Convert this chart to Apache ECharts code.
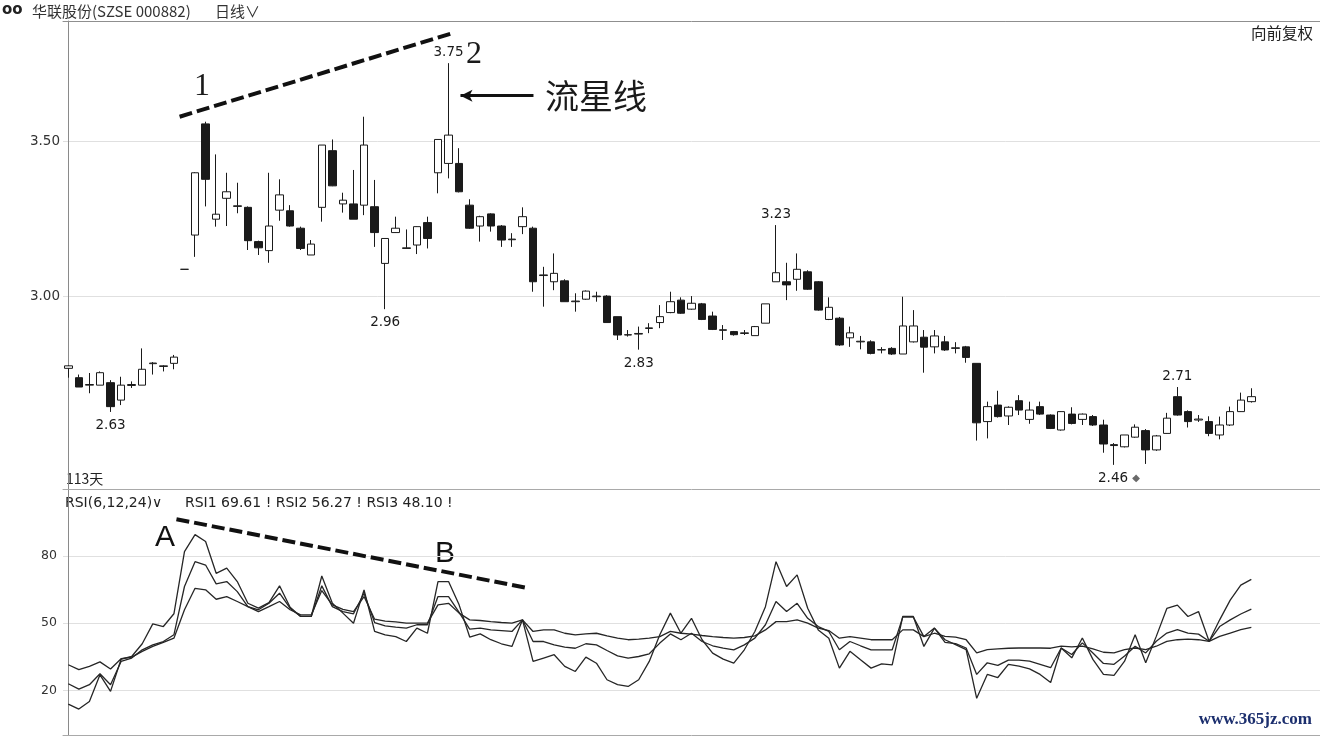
<!DOCTYPE html>
<html>
<head>
<meta charset="utf-8">
<script src="https://cdn.jsdelivr.net/npm/echarts/dist/echarts.min.js"></script>
<style>
html,body{margin:0;padding:0;background:#ffffff;}
#main{width:1320px;height:736px;}
</style>
</head>
<body>
<div id="main"></div>
<script>
// ---------------- DATA ----------------
const SLOT_COUNT = 119; // 113 trading days + empty room on the right
const dayLabels = Array.from({length: SLOT_COUNT}, (_, i) => 'D' + (i + 1));

const opens = [2.770,2.740,2.716,2.716,2.724,2.668,2.715,2.716,2.785,2.776,2.786,3.088,3.198,3.555,3.249,3.316,3.290,3.287,3.177,3.148,
3.278,3.276,3.220,3.134,3.287,3.469,3.298,3.298,3.294,3.289,3.107,3.206,3.155,3.166,3.238,3.398,3.428,3.428,3.294,3.227,
3.266,3.227,3.183,3.225,3.220,3.068,3.048,3.051,2.984,2.992,3.000,3.002,2.936,2.877,2.880,2.898,2.917,2.949,2.989,2.960,
2.977,2.938,2.892,2.888,2.882,2.875,2.915,3.048,3.048,3.056,3.080,3.048,2.927,2.931,2.868,2.855,2.855,2.829,2.834,2.816,
2.855,2.870,2.839,2.855,2.834,2.839,2.786,2.599,2.652,2.617,2.666,2.606,2.647,2.620,2.572,2.623,2.606,2.615,2.588,2.525,
2.518,2.549,2.570,2.508,2.561,2.679,2.631,2.604,2.599,2.556,2.588,2.631,2.663];
const closes = [2.778,2.710,2.718,2.756,2.647,2.716,2.718,2.767,2.787,2.778,2.806,3.088,3.398,3.377,3.265,3.337,3.292,3.180,3.157,3.227,
3.327,3.227,3.155,3.169,3.487,3.356,3.310,3.249,3.487,3.206,3.187,3.220,3.157,3.225,3.187,3.505,3.519,3.337,3.220,3.257,
3.227,3.182,3.185,3.257,3.048,3.070,3.075,2.984,2.986,3.018,3.002,2.917,2.877,2.878,2.882,2.900,2.936,2.984,2.947,2.979,
2.927,2.895,2.894,2.878,2.884,2.904,2.977,3.077,3.038,3.088,3.024,2.957,2.966,2.845,2.884,2.857,2.818,2.830,2.816,2.906,
2.906,2.838,2.874,2.829,2.836,2.805,2.595,2.647,2.615,2.645,2.636,2.636,2.623,2.577,2.631,2.593,2.623,2.588,2.527,2.522,
2.556,2.581,2.508,2.553,2.610,2.620,2.599,2.607,2.561,2.588,2.631,2.668,2.679];
const lows = [2.740,2.710,2.690,2.716,2.630,2.652,2.707,2.716,2.750,2.760,2.767,3.088,3.128,3.290,3.225,3.227,3.268,3.150,3.134,3.109,
3.244,3.225,3.150,3.134,3.241,3.355,3.270,3.249,3.262,3.160,2.960,3.205,3.155,3.137,3.155,3.332,3.380,3.335,3.218,3.177,
3.209,3.160,3.160,3.201,3.016,2.968,3.021,2.984,2.952,2.990,2.984,2.917,2.861,2.872,2.830,2.883,2.899,2.947,2.945,2.958,
2.925,2.893,2.861,2.875,2.877,2.875,2.915,3.048,2.989,3.019,3.022,2.955,2.925,2.842,2.839,2.831,2.815,2.818,2.813,2.816,
2.853,2.756,2.818,2.826,2.818,2.788,2.538,2.545,2.612,2.588,2.620,2.592,2.620,2.575,2.570,2.590,2.588,2.585,2.499,2.460,
2.516,2.547,2.463,2.505,2.560,2.618,2.580,2.598,2.552,2.542,2.585,2.630,2.660];
const highs = [2.780,2.750,2.755,2.760,2.732,2.743,2.728,2.834,2.790,2.780,2.813,3.088,3.400,3.562,3.457,3.398,3.366,3.290,3.180,3.398,
3.377,3.294,3.225,3.182,3.487,3.505,3.334,3.407,3.578,3.375,3.187,3.257,3.216,3.226,3.257,3.505,3.750,3.477,3.313,3.260,
3.268,3.230,3.204,3.287,3.225,3.096,3.139,3.056,3.011,3.020,3.016,3.005,2.936,2.893,2.904,2.915,2.973,3.016,2.998,3.002,
2.980,2.952,2.909,2.890,2.893,2.906,2.977,3.230,3.109,3.139,3.085,3.050,2.998,2.935,2.904,2.874,2.860,2.838,2.838,3.000,
2.957,2.893,2.893,2.874,2.854,2.842,2.786,2.663,2.698,2.648,2.684,2.663,2.663,2.622,2.632,2.645,2.625,2.620,2.605,2.530,
2.556,2.590,2.575,2.556,2.627,2.710,2.635,2.620,2.616,2.615,2.647,2.692,2.706];

const rsi6 = [13.8,11.6,15.0,26.9,19.5,33.9,35.1,40.8,49.7,48.5,54.2,82.0,89.6,86.5,72.3,74.6,68.6,58.9,56.7,59.2,
66.7,57.1,53.0,53.0,71.1,58.9,54.5,50.0,64.9,46.3,44.8,44.0,41.8,47.8,45.5,68.6,68.6,58.2,43.8,45.2,
42.6,40.8,39.6,51.5,32.9,34.4,35.9,30.7,28.4,34.8,32.1,24.7,22.5,21.7,24.7,32.9,44.8,54.5,45.5,52.2,
42.6,36.6,33.9,32.1,38.1,46.3,57.4,77.5,66.4,71.6,56.7,47.0,43.3,29.9,37.4,33.6,29.9,31.8,31.4,53.0,
53.0,39.6,47.8,42.6,40.4,38.2,16.4,27.1,25.7,31.6,30.8,29.6,27.1,23.5,38.9,34.5,43.4,33.8,27.1,26.7,
33.0,44.8,32.3,44.1,56.6,58.1,53.0,55.2,41.9,51.5,60.3,67.0,69.61];
const rsi12 = [22.9,20.5,22.5,27.4,22.5,32.9,34.4,38.1,40.3,41.8,44.8,66.4,77.5,76.0,67.6,68.6,64.1,57.4,56.0,58.9,
63.4,56.7,53.0,53.0,66.7,57.4,55.2,54.2,63.4,50.3,48.8,48.2,47.8,49.3,49.3,61.9,61.9,54.8,47.3,47.8,
47.0,46.7,46.3,51.5,41.8,41.8,40.3,39.3,38.8,40.8,40.3,37.8,35.4,34.4,35.1,36.3,41.1,45.2,42.6,45.5,
41.8,39.9,38.8,38.1,40.3,43.3,49.3,59.7,55.2,58.9,52.2,48.5,46.3,38.1,41.8,39.9,38.1,38.1,38.1,52.7,
52.7,44.0,47.8,41.4,40.9,38.9,27.1,32.3,31.1,33.5,33.5,33.0,31.6,30.1,38.9,36.0,41.2,36.7,32.0,31.6,
35.3,39.7,36.7,41.9,45.6,47.1,45.6,45.1,41.9,48.5,51.5,54.1,56.27];
const rsi24 = [31.4,29.2,30.7,32.7,29.5,34.1,34.8,37.4,39.6,41.4,43.3,56.0,65.6,64.9,60.7,61.9,59.7,57.4,55.2,57.4,
59.7,56.0,53.7,53.7,64.6,58.2,56.2,55.2,61.9,51.8,50.9,50.6,50.0,50.0,50.0,58.2,58.9,54.5,51.5,51.2,
50.7,50.3,50.0,51.5,46.3,47.0,47.0,45.5,44.8,45.2,45.5,44.3,43.3,42.6,42.9,43.3,44.0,46.3,45.5,45.1,
44.5,44.0,43.6,43.3,43.6,44.3,47.0,50.7,50.7,51.5,50.0,47.8,46.7,43.3,44.0,43.3,42.6,42.6,42.6,47.0,
47.0,44.0,45.5,44.1,43.8,42.6,36.7,38.2,38.5,38.8,38.9,38.9,38.9,38.8,39.7,39.4,39.7,38.5,37.0,36.7,
38.2,38.9,38.2,39.7,41.9,42.6,42.9,42.6,41.9,44.1,45.6,47.1,48.10];

const priceTicks = [3.00, 3.50];
const rsiTicks = [20, 50, 80];
const PRICE_MIN = 2.3825, PRICE_MAX = 3.8854;
const RSI_MIN = 0, RSI_MAX = 110;

// annotated extremes (day indices)
const highMarkDays = [36, 67, 105];
const lowMarkDays = [4, 30, 54, 99];
const diamondDay = 99;

// hand-drawn annotations in data units [dayIndex, value]
const priceTrendLine = [[10.54, 3.578], [36.34, 3.846]];
const rsiTrendLine = [[10.24, 96.5], [43.27, 65.9]];
const arrowLine = [[37.13, 3.6455], [44.04, 3.6455]];

// ---------------- CHART ----------------
const chart = echarts.init(document.getElementById('main'), null, {renderer: 'canvas'});
const candleData = opens.map((o, i) => [o, closes[i], lows[i], highs[i]]);
const SANS = '"DejaVu Sans", Verdana, sans-serif';
const CJK = '"Noto Sans CJK SC", sans-serif';
const INK = '#1a1a1a';

const hiddenCat = (grid, pos, lineColor) => ({
  type: 'category', gridIndex: grid, data: dayLabels, boundaryGap: true, position: pos,
  axisLine: {show: true, onZero: false, lineStyle: {color: lineColor, width: 1}},
  axisTick: {show: false}, axisLabel: {show: false}, splitLine: {show: false}
});

const markPts = [
  ...highMarkDays.map(i => ({coord: [i, highs[i]], value: highs[i], label: {position: 'top', distance: 3}})),
  ...lowMarkDays.map(i => ({coord: [i, lows[i]], value: lows[i], diamond: i === diamondDay,
     label: {position: 'bottom', distance: 6, offset: i === diamondDay ? [5, 0] : [0, 0]}}))
];

const gridMark = (ticks) => ticks.map(v => ({yAxis: v, symbol: 'none',
  lineStyle: {color: '#e0e0e0', width: 1, type: 'solid'}}));

const text = (t, x, y, font, align, color) => ({
  type: 'text', x: x, y: y, silent: true,
  style: {text: t, font: font, fill: color || '#222', align: align || 'left', verticalAlign: 'middle',
          textAlign: align || 'left', textVerticalAlign: 'middle'}
});

const option = {
  animation: false,
  backgroundColor: '#ffffff',
  grid: [
    {left: 63, top: 21, right: -4, height: 468},
    {left: 63, top: 489, right: -4, height: 246}
  ],
  xAxis: [
    hiddenCat(0, 'bottom', '#a9a9a9'),
    hiddenCat(1, 'bottom', '#a9a9a9'),
    hiddenCat(0, 'top', '#8f8f8f'),
    {type: 'value', gridIndex: 0, min: -0.5, max: SLOT_COUNT - 0.5, show: false},
    {type: 'value', gridIndex: 1, min: -0.5, max: SLOT_COUNT - 0.5, show: false}
  ],
  yAxis: [
    {type: 'value', gridIndex: 0, min: PRICE_MIN, max: PRICE_MAX, scale: true,
     axisLine: {show: true, lineStyle: {color: '#8a8a8a'}},
     axisTick: {show: false, customValues: priceTicks},
     splitLine: {show: false},
     axisLabel: {customValues: priceTicks, formatter: v => v.toFixed(2), color: '#333',
                 fontSize: 13.5, fontFamily: SANS, margin: 3}},
    {type: 'value', gridIndex: 1, min: RSI_MIN, max: RSI_MAX,
     axisLine: {show: true, lineStyle: {color: '#8a8a8a'}},
     axisTick: {show: false, customValues: rsiTicks},
     splitLine: {show: false},
     axisLabel: {customValues: rsiTicks, formatter: v => String(v), color: '#333',
                 fontSize: 12.5, fontFamily: SANS, margin: 6}}
  ],
  series: [
    {
      name: 'price-annot', type: 'line', xAxisIndex: 3, yAxisIndex: 0, z: 1,
      data: priceTrendLine, symbol: 'none', silent: true,
      lineStyle: {color: '#111', width: 4, type: [13, 5], cap: 'butt'},
      markLine: {
        silent: true, z: 0, symbol: ['none', 'none'], label: {show: false}, animation: false,
        data: [
          ...gridMark(priceTicks),
          [
            {coord: arrowLine[0], symbol: 'arrow', symbolSize: [9, 12],
             lineStyle: {color: '#111', width: 3, type: 'solid'}},
            {coord: arrowLine[1], symbol: 'none'}
          ]
        ]
      }
    },
    {
      name: 'K', type: 'candlestick', xAxisIndex: 0, yAxisIndex: 0, z: 3,
      data: candleData, barWidth: 8,
      itemStyle: {color: '#ffffff', color0: INK, borderColor: INK, borderColor0: INK, borderWidth: 1},
      markPoint: {
        symbol: 'circle', symbolSize: 1, silent: true, animation: false,
        itemStyle: {color: 'rgba(0,0,0,0)'},
        label: {
          show: true, color: '#1e1e1e', fontSize: 13.5, fontFamily: SANS,
          formatter: p => p.data.diamond ? '{v|' + p.value.toFixed(2) + '} {d|◆}' : '{v|' + p.value.toFixed(2) + '}',
          rich: {
            v: {fontSize: 13.5, fontFamily: SANS, color: '#1a1a1a'},
            d: {fontSize: 10, color: '#6a6a6a'}
          }
        },
        data: markPts
      }
    },
    {
      name: 'rsi-annot', type: 'line', xAxisIndex: 4, yAxisIndex: 1, z: 3,
      data: rsiTrendLine, symbol: 'none', silent: true,
      lineStyle: {color: '#111', width: 4, type: [13, 5], cap: 'butt'},
      markLine: {silent: true, z: 0, symbol: ['none', 'none'], label: {show: false}, animation: false,
                 data: gridMark(rsiTicks)}
    },
    {name: 'RSI1', type: 'line', xAxisIndex: 1, yAxisIndex: 1, data: rsi6, symbol: 'none', z: 2,
     lineStyle: {color: '#262626', width: 1.3}},
    {name: 'RSI2', type: 'line', xAxisIndex: 1, yAxisIndex: 1, data: rsi12, symbol: 'none', z: 2,
     lineStyle: {color: '#262626', width: 1.3}},
    {name: 'RSI3', type: 'line', xAxisIndex: 1, yAxisIndex: 1, data: rsi24, symbol: 'none', z: 2,
     lineStyle: {color: '#262626', width: 1.3}}
  ],
  graphic: [
    text('oo', 2, 10, 'bold 15px ' + SANS, 'left', '#222'),
    text('华联股份(SZSE 000882)', 32, 11, '15px ' + CJK, 'left', '#333'),
    text('日线∨', 215, 11, '15px ' + CJK, 'left', '#333'),
    text('向前复权', 1313, 33, '15.5px ' + CJK, 'right', '#222'),
    text('113天', 66, 479, '14px ' + CJK, 'left', '#222'),
    text('RSI(6,12,24)∨', 65, 503, '14px ' + SANS, 'left', '#222'),
    text('RSI1 69.61 ! RSI2 56.27 ! RSI3 48.10 !', 185, 503, '14px ' + SANS, 'left', '#222'),
    text('1', 202, 87, '32px "Liberation Serif", serif', 'center', '#1a1a1a'),
    text('2', 474, 55, '32px "Liberation Serif", serif', 'center', '#1a1a1a'),
    text('流星线', 596, 96, '34px ' + CJK, 'center', '#1a1a1a'),
    text('A', 165, 538, '30px "Liberation Sans", Arial, sans-serif', 'center', '#111'),
    text('B', 445, 554, '30px "Liberation Sans", Arial, sans-serif', 'center', '#111'),
    text('www.365jz.com', 1312, 720, 'bold 17px "Liberation Serif", serif', 'right', '#1c2f6e')
  ]
};
chart.setOption(option);
</script>
</body>
</html>
